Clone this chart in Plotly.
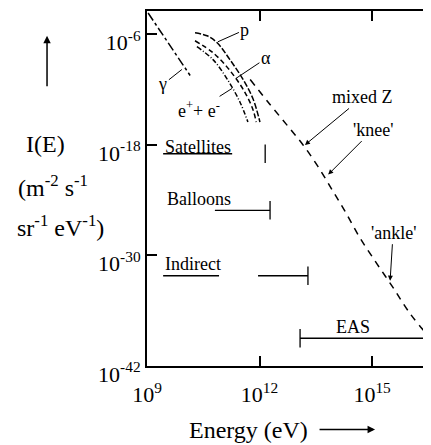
import plotly.graph_objects as go

# all values as log10(E / eV) and log10(I / m^-2 s^-1 sr^-1 eV^-1)
gamma_logE = [9.03, 10.15]
gamma_logI = [-3.68, -10.46]

p_logE = [10.28, 10.60, 10.87, 11.21, 11.56, 11.83, 12.01]
p_logI = [-5.83, -6.15, -6.91, -8.74, -10.89, -13.04, -15.52]

alpha_logE = [10.28, 10.76, 11.21, 11.61, 11.83, 11.91]
alpha_logI = [-6.69, -7.99, -9.92, -12.29, -14.23, -15.52]

elec_logE = [10.33, 10.76, 11.16, 11.48, 11.69]
elec_logI = [-7.34, -8.74, -11.00, -13.37, -15.52]

mixz_logE = [11.75, 12.23, 12.71, 13.16, 13.56, 13.96, 14.28, 14.68, 15.13, 15.56, 16.01, 16.55]
mixz_logI = [-10.89, -13.37, -15.74, -18.00, -20.36, -23.05, -25.21, -28.11, -30.91, -33.50, -36.30, -38.99]

# measurement techniques: energy span and intensity level where drawn
tech_names = ["Satellites", "Balloons", "Indirect", "EAS"]
tech_lo = [9.43, 10.81, 9.43, 13.08]
tech_hi = [12.15, 12.28, 13.29, 16.36]
tech_level = [-18.96, -25.10, -32.20, -38.99]
tech_bar_at = ["hi", "hi", "hi", "lo"]
# break in the line as printed (None = no break)
tech_gap_lo = [11.27, None, 10.92, None]
tech_gap_hi = [12.15, None, 11.96, None]

x_ticks = [9, 12, 15]
y_ticks = [-6, -18, -30, -42]

SERIF = "Liberation Serif"
INK = "black"


def e(v):
    return [10 ** a for a in v]


fig = go.Figure()

curvas = [
    (gamma_logE, gamma_logI, "dashdot", "linear"),
    (p_logE, p_logI, "6px,2px", "spline"),
    (alpha_logE, alpha_logI, "5px,3px", "spline"),
    (elec_logE, elec_logI, "5px,2px,1px,2px", "spline"),
    (mixz_logE, mixz_logI, "7px,6px", "spline"),
]
for xs, ys, dash, shape in curvas:
    fig.add_scatter(x=e(xs), y=e(ys), mode="lines",
                    line=dict(color=INK, width=1.5, dash=dash, shape=shape),
                    hoverinfo="skip", showlegend=False)

# faixas de cada técnica, com a barra no fim
for lo, hi, lvl, lado, g0, g1 in zip(tech_lo, tech_hi, tech_level, tech_bar_at,
                                      tech_gap_lo, tech_gap_hi):
    fim = hi if lado == "hi" else lo
    if g0 is None:
        xs = [10 ** lo, 10 ** hi]
        ys = [10 ** lvl, 10 ** lvl]
    else:
        xs = [10 ** lo, 10 ** g0, None, 10 ** g1, 10 ** hi]
        ys = [10 ** lvl, 10 ** lvl, None, 10 ** lvl, 10 ** lvl]
    xs += [None, 10 ** fim, 10 ** fim]
    ys += [None, 10 ** (lvl + 1.0), 10 ** (lvl - 1.0)]
    fig.add_scatter(x=xs, y=ys, mode="lines", line=dict(color=INK, width=1.3),
                    hoverinfo="skip", showlegend=False)

# eixo da direita só com os traços (cortado na imagem original)
fig.add_scatter(x=[], y=[], yaxis="y2", showlegend=False, hoverinfo="skip")

lbl = dict(family=SERIF, size=18, color=INK)
fig.add_annotation(x=9.43, y=-18.21, text="Satellites", showarrow=False, xanchor="left", font=lbl)
fig.add_annotation(x=9.48, y=-23.92, text="Balloons", showarrow=False, xanchor="left", font=lbl)
fig.add_annotation(x=9.43, y=-30.90, text="Indirect", showarrow=False, xanchor="left", font=lbl)
fig.add_annotation(x=14.49, y=-37.80, text="EAS", showarrow=False, font=lbl)

seta = dict(arrowcolor=INK, arrowwidth=1, font=lbl)
fig.add_annotation(x=9.93, y=-9.81, text="γ", ax=-19, ay=15, arrowhead=0, **seta)
fig.add_annotation(x=10.89, y=-6.80, text="p", ax=27, ay=-12, arrowhead=0, **seta)
fig.add_annotation(x=11.37, y=-10.78, text="α", ax=30, ay=-20, arrowhead=0, **seta)
fig.add_annotation(x=11.27, y=-11.86, text="e<sup>+</sup>+ e<sup>-</sup>", ax=-33, ay=21,
                   arrowhead=0, **seta)
fig.add_annotation(x=13.21, y=-18.00, text="mixed Z", ax=58, ay=-48, arrowhead=2, **seta)
fig.add_annotation(x=13.83, y=-21.22, text="'knee'", ax=45, ay=-45, arrowhead=2, **seta)
fig.add_annotation(x=15.48, y=-32.74, text="'ankle'", ax=3, ay=-48, arrowhead=2, **seta)

# título do eixo y em três linhas + seta para cima
tit = dict(family=SERIF, size=24, color=INK)
papel = dict(xref="paper", yref="paper", showarrow=False, font=tit,
             xanchor="center", yanchor="middle")
fig.add_annotation(xref="paper", yref="paper", x=-0.352, y=0.930, text="", ax=0, ay=52,
                   arrowhead=2, arrowwidth=1.5, arrowcolor=INK)
fig.add_annotation(x=-0.359, y=0.625, text="I(E)", **papel)
fig.add_annotation(x=-0.331, y=0.506, text="(m<sup>-2</sup> s<sup>-1</sup>", **papel)
fig.add_annotation(x=-0.303, y=0.393, text="sr<sup>-1</sup> eV<sup>-1</sup>)", **papel)
fig.add_annotation(x=0.356, y=-0.179, text="Energy (eV)", **papel)
fig.add_annotation(xref="paper", yref="paper", x=0.803, y=-0.179, text="", ax=-57, ay=0,
                   arrowhead=2, arrowwidth=1.5, arrowcolor=INK)

eixo = dict(type="log", showgrid=False, zeroline=False, showline=True, linecolor=INK,
            ticks="inside", tickcolor=INK, tickwidth=1.5, ticklen=10,
            tickfont=dict(family=SERIF, size=22, color=INK))
fig.update_layout(
    width=431, height=445,
    margin=dict(l=139, r=8, t=1, b=87),
    paper_bgcolor="white", plot_bgcolor="white",
    font=dict(family=SERIF, color=INK),
    xaxis=dict(eixo, range=[9, 16.57], linewidth=1.5, mirror="ticks",
               tickvals=[10 ** t for t in x_ticks],
               ticktext=[f"10<sup>{t}</sup>" for t in x_ticks],
               ticklabelstandoff=8),
    yaxis=dict(eixo, range=[-42, -3.46], linewidth=2,
               tickvals=[10 ** t for t in y_ticks],
               ticktext=[f"10<sup>{t}</sup>" for t in y_ticks],
               ticklabelshift=8),
    yaxis2=dict(type="log", overlaying="y", side="right", range=[-42, -3.46],
                showgrid=False, zeroline=False, showline=False, showticklabels=False,
                ticks="inside", ticklen=8, tickwidth=1.5, tickcolor=INK,
                tickvals=[10 ** t for t in y_ticks]),
)

fig.write_html("out.html")
